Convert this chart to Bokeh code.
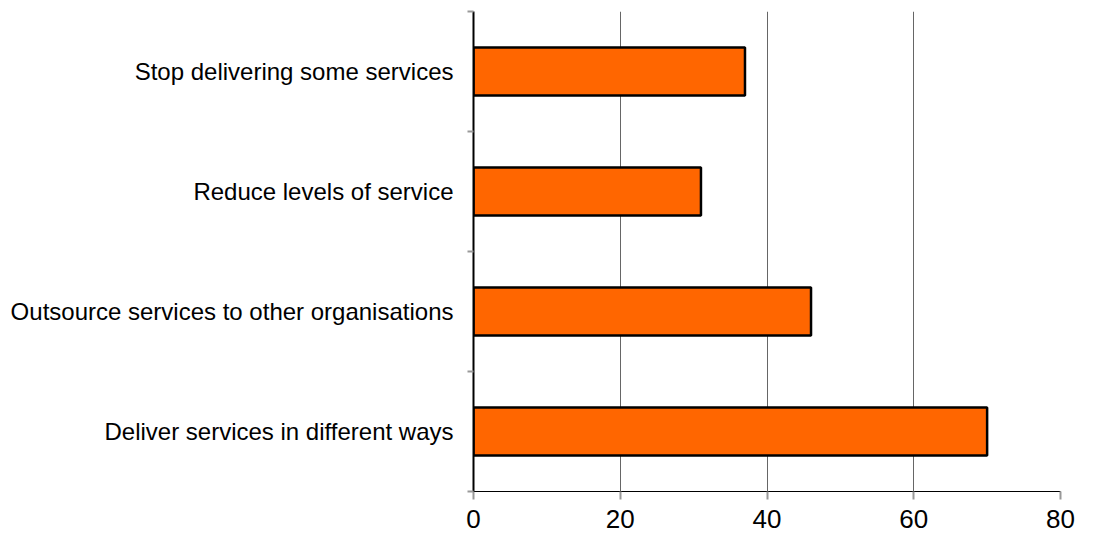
from bokeh.plotting import figure
from bokeh.models import Range1d, FixedTicker
from bokeh.embed import file_html
from bokeh.resources import INLINE

# Data (bottom to top)
categories = [
    "Deliver services in different ways",
    "Outsource services to other organisations",
    "Reduce levels of service",
    "Stop delivering some services",
]
values = [70, 46, 31, 37]
x_ticks = [0, 20, 40, 60, 80]

centers = [i + 0.5 for i in range(len(categories))]
boundaries = list(range(len(categories) + 1))

p = figure(
    width=1086, height=539,
    x_range=Range1d(0, 80), y_range=Range1d(0, len(categories)),
    output_backend="svg", toolbar_location=None,
    min_border_left=473, min_border_right=26,
    min_border_top=11, min_border_bottom=48,
)
p.outline_line_color = None
p.background_fill_color = "white"
p.border_fill_color = "white"

p.hbar(y=centers, right=values, left=0, height=0.4,
       fill_color="#FF6600", line_color="black", line_width=2.5)

# x axis
p.xaxis.ticker = FixedTicker(ticks=x_ticks, minor_ticks=[])
p.xaxis.axis_line_color = "black"
p.xaxis.axis_line_width = 1
p.xaxis.major_tick_line_color = "#999999"
p.xaxis.major_tick_line_width = 2
p.xaxis.major_tick_out = 8
p.xaxis.major_tick_in = 0
p.xaxis.minor_tick_line_color = None
p.xaxis.major_label_text_font = "Liberation Sans"
p.xaxis.major_label_text_font_size = "26px"
p.xaxis.major_label_text_color = "black"
p.xaxis.major_label_standoff = 10

# y axis: labels at centers, ticks at category boundaries
p.yaxis.ticker = FixedTicker(ticks=centers, minor_ticks=boundaries)
p.yaxis.major_label_overrides = {c: lab for c, lab in zip(centers, categories)}
p.yaxis.axis_line_color = "black"
p.yaxis.axis_line_width = 2
p.yaxis.major_tick_line_color = None
p.yaxis.major_tick_out = 6
p.yaxis.major_tick_in = 0
p.yaxis.minor_tick_line_color = "#999999"
p.yaxis.minor_tick_line_width = 2
p.yaxis.minor_tick_out = 6
p.yaxis.minor_tick_in = 0
p.yaxis.major_label_text_font = "Liberation Sans"
p.yaxis.major_label_text_font_size = "24px"
p.yaxis.major_label_text_color = "black"
p.yaxis.major_label_standoff = 14

# grids
p.xgrid.grid_line_color = "#666666"
p.xgrid.grid_line_width = 1
p.ygrid.grid_line_color = None

open("out.html", "w").write(file_html(p, INLINE))
